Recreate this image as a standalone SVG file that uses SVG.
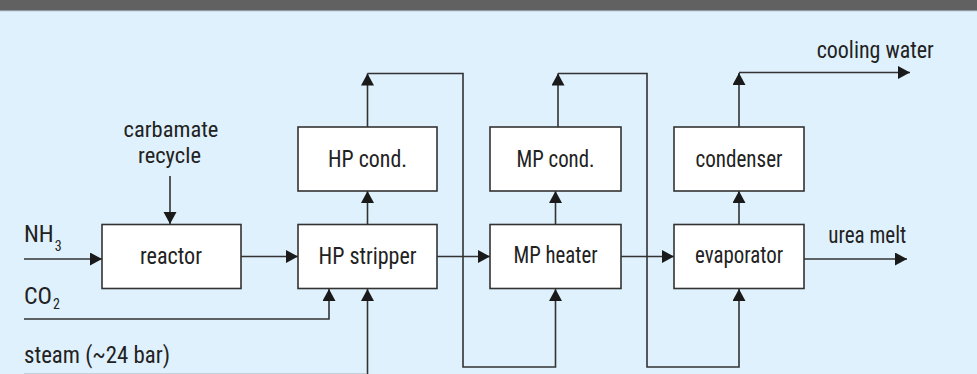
<svg xmlns="http://www.w3.org/2000/svg" width="977" height="374" viewBox="0 0 977 374">
<defs>
<style>
.box{fill:#ffffff;stroke:#333333;stroke-width:1.6}
.ln{fill:none;stroke:#333333;stroke-width:1.6}
.ar{marker-end:url(#arr)}
text{font-family:"Liberation Sans Narrow","Roboto Condensed","Liberation Sans",Arial,sans-serif;font-size:24px;fill:#222222}
.c{text-anchor:middle}
.sub{font-size:14px}
</style>
<marker id="arr" markerUnits="userSpaceOnUse" markerWidth="13" markerHeight="14" refX="12" refY="6.5" orient="auto">
<path d="M0,0 L12,6.5 L0,13 z" fill="#1a1a1a"/>
</marker>
</defs>
<rect x="0" y="0" width="977" height="374" fill="#dff1fc"/>
<rect x="0" y="0" width="977" height="10.5" fill="#616161"/>
<rect x="0" y="10" width="977" height="1.2" fill="#8f9aa3"/>

<g id="connectors">
<path class="ln ar" d="M170,176 V224"/>
<path class="ln ar" d="M24,259 H102"/>
<path class="ln ar" d="M241,256.5 H298"/>
<path class="ln ar" d="M24,319 H329 V289"/>
<path class="ln ar" d="M367.5,378 V289"/>
<line x1="24" y1="373.5" x2="366" y2="373.5" stroke="#c2d2dc" stroke-width="1"/>
<path class="ln ar" d="M367.5,224 V191"/>
<path class="ln ar" d="M367.5,127 V73.5"/>
<path class="ln ar" d="M367.5,73.5 H463 V367 H555.5 V289"/>
<path class="ln ar" d="M437,256.5 H490"/>
<path class="ln ar" d="M555.5,224 V191"/>
<path class="ln ar" d="M558,127 V73.5"/>
<path class="ln ar" d="M558,73.5 H647 V367 H739 V289"/>
<path class="ln ar" d="M621,256.5 H674"/>
<path class="ln ar" d="M739,224 V191"/>
<path class="ln ar" d="M739,127 V73"/>
<path class="ln ar" d="M739,72.5 H910"/>
<path class="ln ar" d="M804,259 H907"/>
</g>

<g id="reactor">
<rect class="box" x="102" y="224.5" width="139" height="64"/>
<text class="c" x="171" y="263.5" textLength="62" lengthAdjust="spacingAndGlyphs">reactor</text>
</g>
<g id="hp-stripper">
<rect class="box" x="298" y="224.5" width="139" height="64"/>
<text class="c" x="367.5" y="263.5" textLength="98" lengthAdjust="spacingAndGlyphs">HP stripper</text>
</g>
<g id="hp-cond">
<rect class="box" x="298" y="127" width="139" height="64"/>
<text class="c" x="367.5" y="166.8" textLength="79" lengthAdjust="spacingAndGlyphs">HP cond.</text>
</g>
<g id="mp-heater">
<rect class="box" x="490" y="224.5" width="131" height="64"/>
<text class="c" x="555.5" y="263" textLength="84" lengthAdjust="spacingAndGlyphs">MP heater</text>
</g>
<g id="mp-cond">
<rect class="box" x="490" y="127" width="131" height="64"/>
<text class="c" x="555.5" y="166.5" textLength="78" lengthAdjust="spacingAndGlyphs">MP cond.</text>
</g>
<g id="evaporator">
<rect class="box" x="674" y="224.5" width="130" height="64"/>
<text class="c" x="739" y="263" textLength="88" lengthAdjust="spacingAndGlyphs">evaporator</text>
</g>
<g id="condenser">
<rect class="box" x="674" y="127" width="130" height="64"/>
<text class="c" x="739" y="166.5" textLength="87" lengthAdjust="spacingAndGlyphs">condenser</text>
</g>

<g id="labels">
<text class="c" x="171" y="136.5" style="font-size:22.5px">carbamate<tspan x="169.5" dy="26.5">recycle</tspan></text>
<text x="24" y="241.7">NH<tspan class="sub" dx="1" dy="8.8">3</tspan></text>
<text x="24" y="304">CO<tspan class="sub" dx="1" dy="5">2</tspan></text>
<text x="24" y="363.3" textLength="146" lengthAdjust="spacingAndGlyphs">steam (~24 bar)</text>
<text x="828.3" y="242.7" textLength="78" lengthAdjust="spacingAndGlyphs">urea melt</text>
<text x="816.7" y="58" textLength="117" lengthAdjust="spacingAndGlyphs">cooling water</text>
</g>
</svg>
